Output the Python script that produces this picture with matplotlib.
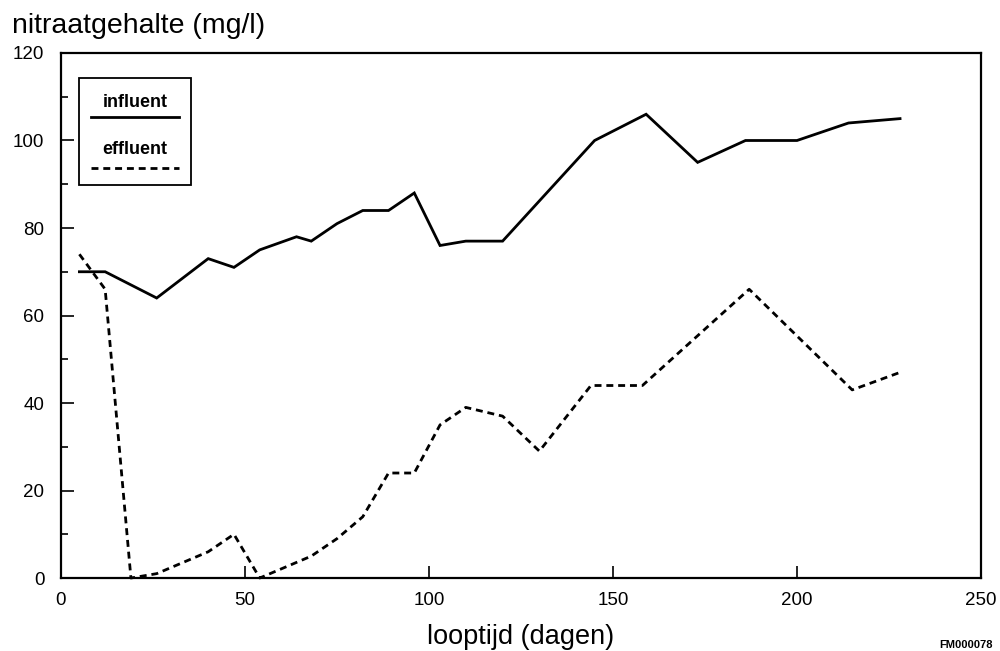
import matplotlib
matplotlib.use("Agg")
import matplotlib.pyplot as plt
from matplotlib.patches import Rectangle
from matplotlib.lines import Line2D

plt.rcParams['font.family'] = ['Liberation Sans', 'DejaVu Sans']
plt.rcParams['lines.scale_dashes'] = False

# nitraat in influent en effluent, per meetdag
influent_dag = [5, 12, 26, 40, 47, 54, 64, 68, 75, 82, 89, 96, 103, 110, 120,
                145, 159, 173, 186, 200, 214, 228]
influent_no3 = [70, 70, 64, 73, 71, 75, 78, 77, 81, 84, 84, 88, 76, 77, 77,
                100, 106, 95, 100, 100, 104, 105]

effluent_dag = [5, 12, 19, 26, 33, 40, 47, 54, 61, 68, 75, 82, 89, 96, 103,
                110, 120, 130, 144, 158, 187, 215, 228]
effluent_no3 = [74, 66, 0, 1, 3.5, 6, 10, 0, 2.5, 5, 9, 14, 24, 24, 35,
                39, 37, 29, 44, 44, 66, 43, 47]

x_ticks = [0, 50, 100, 150, 200, 250]
y_ticks = [0, 20, 40, 60, 80, 100, 120]

fig = plt.figure(figsize=(10, 6.51), dpi=100)
ax = fig.add_axes([0.061, 0.1121, 0.920, 0.8065])

ax.plot(influent_dag, influent_no3, color='black', lw=2.0,
        solid_joinstyle='miter', clip_on=False)
ax.plot(effluent_dag, effluent_no3, color='black', lw=2.0,
        dashes=(5, 3.5), clip_on=False)

ax.set_xlim(0, 250)
ax.set_ylim(0, 120)
ax.set_xticks(x_ticks)
ax.set_yticks(y_ticks)
ax.set_yticks(range(10, 120, 20), minor=True)
ax.tick_params(axis='both', which='major', direction='in', length=9,
               width=1.2, labelsize=13.5)
ax.tick_params(axis='x', which='major', pad=10)
ax.tick_params(axis='y', which='major', pad=12)
ax.tick_params(axis='y', which='minor', direction='in', length=5, width=1.2)
for s in ax.spines.values():
    s.set_linewidth(1.6)

ax.set_xlabel('looptijd (dagen)', fontsize=19.5, labelpad=11)
fig.text(0.012, 0.949, 'nitraatgehalte (mg/l)', fontsize=20.5,
         ha='left', va='baseline')
fig.text(0.993, 0.005, 'FM000078', fontsize=8, weight='bold',
         ha='right', va='baseline')

# legenda: tekst boven de lijnstijl, in een kader
ax.add_patch(Rectangle((0.0196, 0.7486), 0.1217, 0.2038,
                       transform=ax.transAxes, fill=False, lw=1.3,
                       edgecolor='black', zorder=5))
ax.text(0.0804, 0.906, 'influent', transform=ax.transAxes, fontsize=13,
        weight='bold', ha='center', va='center')
ax.add_line(Line2D([0.0326, 0.1283], [0.878, 0.878], transform=ax.transAxes,
                   color='black', lw=2.0))
ax.text(0.0804, 0.816, 'effluent', transform=ax.transAxes, fontsize=13,
        weight='bold', ha='center', va='center')
ax.add_line(Line2D([0.0326, 0.1283], [0.781, 0.781], transform=ax.transAxes,
                   color='black', lw=2.0, dashes=(5, 3.5)))

fig.savefig('out.png', dpi=100)
